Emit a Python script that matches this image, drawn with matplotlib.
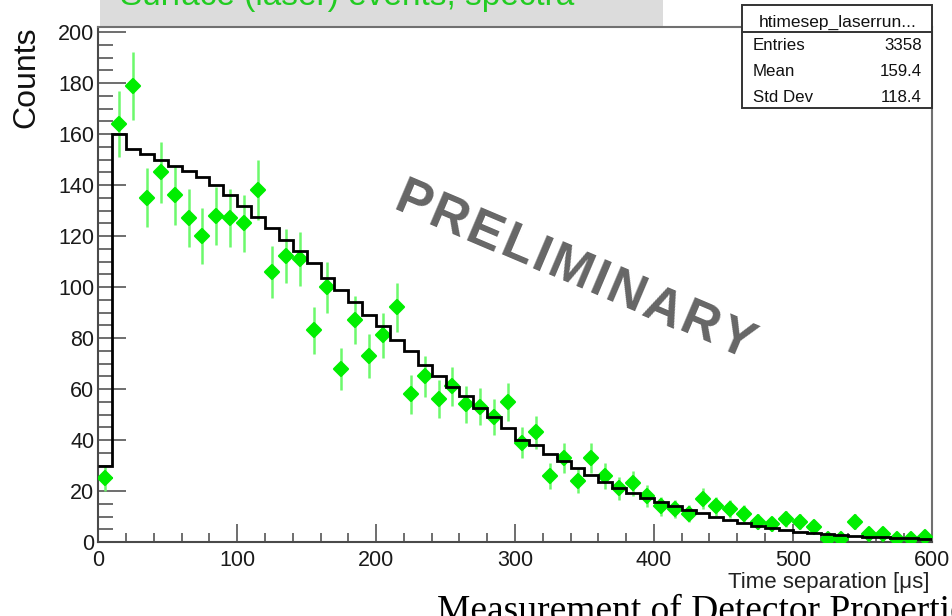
import numpy as np
import matplotlib
matplotlib.use("Agg")
import matplotlib.pyplot as plt
from matplotlib.patches import Rectangle
from matplotlib.lines import Line2D
from matplotlib.markers import MarkerStyle
from matplotlib.ticker import MultipleLocator
from matplotlib.textpath import TextToPath
from matplotlib.font_manager import FontProperties

# ---- data: 10 us bins from 0 to 600 us ----
bin_edges = np.arange(0, 601, 10)

# measured laser-run counts per bin
data_counts = [
    25, 164, 179, 135, 145, 136, 127, 120, 128, 127,
    125, 138, 106, 112, 111, 83, 100, 68, 87, 73,
    81, 92, 58, 65, 56, 61, 54, 53, 49, 55,
    39, 43, 26, 33, 24, 33, 26, 21, 23, 18,
    14, 13, 11, 17, 14, 13, 11, 8, 7, 9,
    8, 6, 1, 1, 8, 3, 3, 1, 1, 2,
]

# expected spectrum (model histogram)
model_counts = [
    30, 160, 154.3, 152, 149.8, 147.5, 145.4, 143.3, 140, 136.3,
    131.8, 127.6, 123.3, 118.4, 114.1, 109.5, 103.6, 99, 94, 89.2,
    84.6, 79.4, 74.8, 69.5, 65, 60.8, 57.1, 52.5, 49, 44.7,
    40.1, 37.9, 34.6, 31.8, 29, 26.3, 23.7, 21.1, 19.1, 17.4,
    15.8, 14.1, 12.6, 11.3, 10, 8.6, 7.6, 6.3, 5.4, 4.7,
    4, 3.4, 3, 2.8, 2.4, 2.1, 1.8, 1.7, 1.5, 1.3,
]

x_ticks = [0, 100, 200, 300, 400, 500, 600]
y_ticks = [0, 20, 40, 60, 80, 100, 120, 140, 160, 180, 200]

hist_name = "htimesep_laserrun..."
stats_labels = ["Entries", "Mean", "Std Dev"]
stats_values = ["3358", "159.4", "118.4"]

title_text = "Surface (laser) events, spectra"
x_title = "Time separation [\u03bcs]"
y_title = "Counts"
watermark = "PRELIMINARY"
page_caption = "Measurement of Detector Properties"

SANS = ["Liberation Sans", "DejaVu Sans"]
SERIF = ["Liberation Serif", "DejaVu Serif"]
plt.rcParams["font.family"] = SANS

W, H = 952, 616
fig = plt.figure(figsize=(W / 100, H / 100), dpi=100)
fig.patch.set_facecolor("white")


def fx(px):
    return px / W


def fy(py):
    return 1 - py / H


# ---- pad title box (clipped by the page top) ----
fig.add_artist(Rectangle((fx(100), fy(26)), fx(663) - fx(100), fy(0) - fy(26),
                         transform=fig.transFigure, facecolor="#dcdcdc",
                         edgecolor="none", zorder=0))
fig.text(fx(120), fy(5.5), title_text, color="#22cc22", fontsize=24,
         ha="left", va="baseline", family=SANS, zorder=1)

# ---- main frame ----
ax = fig.add_axes([fx(98.3), fy(542), fx(931.7) - fx(98.3), fy(27) - fy(542)])
ax.set_xlim(0, 600)
ax.set_ylim(0, 202)

centers = (bin_edges[:-1] + bin_edges[1:]) / 2
errors = np.sqrt(np.asarray(data_counts, dtype=float))

ax.errorbar(centers, data_counts, yerr=errors, fmt="none", ecolor="#6cf96c",
            elinewidth=1.8, capsize=0, zorder=2)
diamond = MarkerStyle("D", joinstyle="round")
ax.plot(centers, data_counts, linestyle="none", marker=diamond, ms=6.8,
        mfc="#00ee00", mec="#00ee00", mew=1.6, zorder=3)
ax.stairs(model_counts, bin_edges, baseline=None, color="black", lw=2.0,
          zorder=4)

ax.set_xticks(x_ticks)
ax.set_yticks(y_ticks)
ax.xaxis.set_minor_locator(MultipleLocator(20))
ax.yaxis.set_minor_locator(MultipleLocator(5))
tick_col = "#555555"
ax.tick_params(axis="y", which="major", direction="in", length=20, width=1.2,
               color=tick_col, pad=3, labelsize=15.5, labelcolor="#1a1a1a")
ax.tick_params(axis="y", which="minor", direction="in", length=10.8, width=1.2,
               color=tick_col)
ax.tick_params(axis="x", which="major", direction="in", length=13, width=1.2,
               color=tick_col, pad=5.5, labelsize=15.5, labelcolor="#1a1a1a")
ax.tick_params(axis="x", which="minor", direction="in", length=6.5, width=1.2,
               color=tick_col)
for side in ("left", "bottom"):
    ax.spines[side].set_color("#4a4a4a")
    ax.spines[side].set_linewidth(1.5)
for side in ("top", "right"):
    ax.spines[side].set_color("#707070")
    ax.spines[side].set_linewidth(1.5)

# ---- axis titles ----
fig.text(fx(26), fy(27), y_title, rotation=90, ha="center", va="top",
         fontsize=23, color="#111111")
fig.text(fx(930), fy(588), x_title, ha="right", va="baseline",
         fontsize=16, color="#222222")

# ---- watermark, letter-spaced along a tilted baseline ----
wm_size = 37.5
wm_angle = 23.0
wm_track = 2.6          # extra spacing between letters, px
wm_center = (575.0, 267.0)
wm_prop = FontProperties(family=SANS, weight="bold", size=wm_size)
ttp = TextToPath()


def text_px_width(s):
    if not s:
        return 0.0
    w, _, _ = ttp.get_text_width_height_descent(s, wm_prop, ismath=False)
    return w * 100.0 / 72.0


total_len = text_px_width(watermark) + wm_track * (len(watermark) - 1)
cap_px = 0.716 * wm_size * 100.0 / 72.0
th = np.deg2rad(wm_angle)
along = np.array([np.cos(th), np.sin(th)])      # image coords (y down)
up = np.array([np.sin(th), -np.cos(th)])
base0 = np.array(wm_center) - along * total_len / 2 - up * cap_px / 2
for i, ch in enumerate(watermark):
    off = text_px_width(watermark[:i]) + wm_track * i
    px, py = base0 + along * off
    fig.text(fx(px), fy(py), ch, rotation=-wm_angle, rotation_mode="anchor",
             ha="left", va="baseline", fontproperties=wm_prop,
             color="#666666", zorder=6)

# ---- statistics box ----
bx0, bx1, by0, by1 = 741.7, 931.7, 5, 108.3
fig.add_artist(Rectangle((fx(bx0), fy(by1)), fx(bx1) - fx(bx0), fy(by0) - fy(by1),
                         transform=fig.transFigure, facecolor="white",
                         edgecolor="#333333", linewidth=1.4, zorder=10))
fig.add_artist(Line2D([fx(bx0), fx(bx1)], [fy(32.3), fy(32.3)],
                      transform=fig.transFigure, color="#333333", lw=1.4,
                      zorder=11))
fig.text(fx((bx0 + bx1) / 2 + 1), fy(26.7), hist_name, ha="center",
         va="baseline", fontsize=12.5, color="#111111", zorder=12)
for label, value, base in zip(stats_labels, stats_values, [50.3, 76.3, 101.7]):
    fig.text(fx(753), fy(base), label, ha="left", va="baseline",
             fontsize=12.2, color="#111111", zorder=12)
    fig.text(fx(922), fy(base), value, ha="right", va="baseline",
             fontsize=12.2, color="#111111", zorder=12)

# ---- page caption under the figure (clipped by the page bottom) ----
fig.text(fx(437), fy(621), page_caption, ha="left", va="baseline",
         fontsize=27, family=SERIF, color="black")

fig.savefig("out.png", dpi=100)
